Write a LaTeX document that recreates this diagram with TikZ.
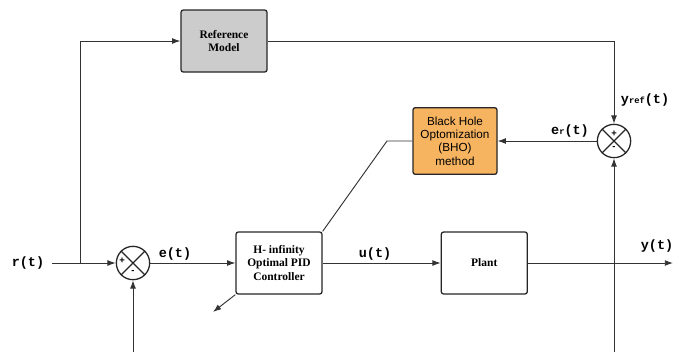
\documentclass[tikz,border=0pt]{standalone}
\usepackage{fontspec}
\setmainfont{Liberation Serif}
\setsansfont{Liberation Sans}
\setmonofont{Liberation Mono}
\usetikzlibrary{arrows.meta,positioning}
\definecolor{refgray}{RGB}{204,204,204}
\definecolor{bhoorange}{RGB}{247,180,96}
\tikzstyle{block}=[
	rectangle,
	rounded corners=2pt,
	line width=1.1pt,
	draw=black!85,
	fill=white,
	minimum width=2.58cm,
	minimum height=1.86cm,
	align=center,
	font=\bfseries\fontsize{9.8}{11.3}\selectfont
]
\tikzstyle{sumnode}=[
	circle,
	line width=1.1pt,
	draw=black!85,
	minimum size=1.0cm,
	inner sep=0pt
]
\tikzstyle{signal}=[
	-{Latex[length=7pt,width=5pt]},
	line width=0.8pt,
	draw=black!80
]
\tikzstyle{sig}=[
	font=\ttfamily\bfseries\fontsize{11.5}{13}\selectfont,
	inner sep=0pt
]
\tikzstyle{sign}=[
	font=\sffamily\bfseries\fontsize{8}{8}\selectfont,
	inner sep=0pt
]

\begin{document}
\begin{tikzpicture}[x=0.03cm,y=-0.03cm]
\useasboundingbox (0,0) rectangle (673,351);
\clip (0,0) rectangle (673,351);
% blocks
\node [block, fill=refgray] (refmodel) at (224,41) {Reference\\Model};
\node [block] (ctrl) at (279,263) {H- infinity\\Optimal PID\\Controller};
\node [block, right=3.54cm of ctrl] (plant) {Plant};
\node [block, fill=bhoorange, minimum width=2.52cm, minimum height=2.0cm,
	font=\sffamily\fontsize{10}{11.3}\selectfont] (bho) at (455,141) {Black Hole\\Optomization\\(BHO)\\method};
% summing junctions
\node [sumnode] (sum1) at (133,263) {};
\node [sumnode] (sum2) at (614,141) {};
\draw [line width=1.1pt, black!85] (sum1.north west) -- (sum1.south east) (sum1.north east) -- (sum1.south west);
\draw [line width=1.1pt, black!85] (sum2.north west) -- (sum2.south east) (sum2.north east) -- (sum2.south west);
\node [sign] (p1) at (122,261) {+};
\node [sign] (m1) at (133,272) {-};
\node [sign] (p2) at (614,134) {+};
\node [sign] (m2) at (614,148) {-};
% signal labels
\node [sig] (r) at (28,263) {r(t)};
\node [sig] (e) at (175,254) {e(t)};
\node [sig] (u) at (375,254) {u(t)};
\node [sig] (y) at (657,246) {y(t)};
\node [sig] (yref) at (645,100) {y{\fontsize{7.5}{8}\selectfont ref}(t)};
\node [sig] (er) at (570,131) {e{\fontsize{7.5}{8}\selectfont r}(t)};
% coordinates
\coordinate (rin) at (52,263);
\coordinate (split) at (80,263);
\coordinate (ysplit) at (614,263);
\coordinate (yout) at (673,263);
\coordinate (fbot) at (614,362);
\coordinate (bend) at (387,141);
\coordinate (adapt) at (213,312);
% connectors
\draw [signal] (rin) -- (sum1.west);
\draw [signal] (split) |- (refmodel.west);
\draw [signal] (refmodel.east) -| (sum2.north);
\draw [signal] (sum2.west) -- (bho.east);
\draw [signal] (sum1.east) -- (ctrl.west);
\draw [signal] (ctrl.east) -- (plant.west);
\draw [signal] (plant.east) -- (yout);
\draw [signal] (ysplit) -- (sum2.south);
\draw [signal] (ysplit) -- (fbot) -| (sum1.south);
\draw [line width=0.8pt, black!80] (bho.west) -- (bend) -- (ctrl.north east);
\draw [signal] (ctrl.south west) -- (adapt);
\end{tikzpicture}
\end{document}
